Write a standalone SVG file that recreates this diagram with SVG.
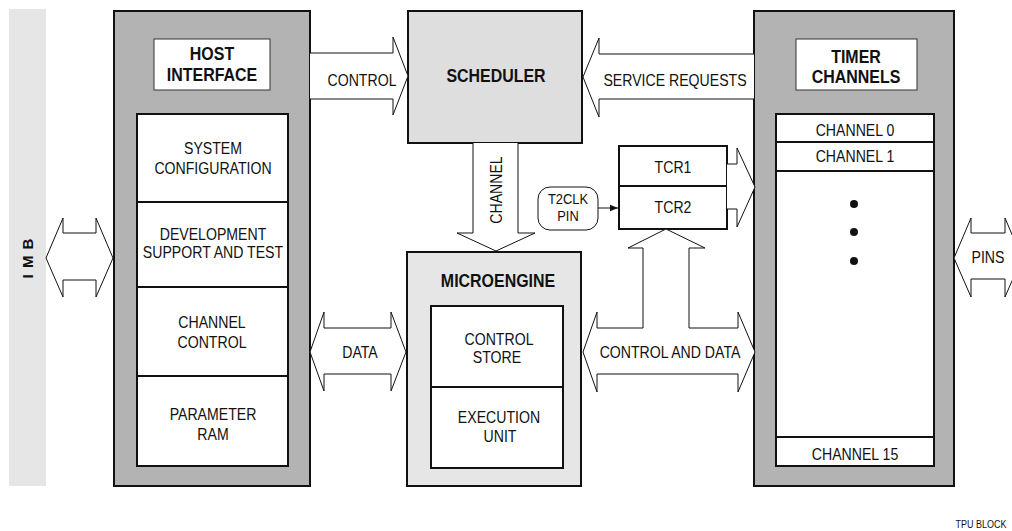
<svg xmlns="http://www.w3.org/2000/svg" width="1012" height="531" viewBox="0 0 1012 531">
<defs>
<style>
.t{font-family:"Liberation Sans",Arial,sans-serif;font-size:16.8px;text-anchor:middle;fill:#111}
.b{font-family:"Liberation Sans",Arial,sans-serif;font-size:19px;font-weight:bold;text-anchor:middle;fill:#111}
.outer{fill:#b3b3b3;stroke:#111;stroke-width:2}
.inner{fill:#fff;stroke:#111;stroke-width:2}
.lbl{fill:#fff;stroke:#333;stroke-width:1}
.light{fill:#e2e2e2;stroke:#111;stroke-width:2}
.arr{fill:#fff;stroke:#111;stroke-width:1;stroke-linejoin:miter}
.div{stroke:#111;stroke-width:2;fill:none}
</style>
<marker id="ah" viewBox="0 0 10 10" refX="10" refY="5" markerWidth="8" markerHeight="8" markerUnits="userSpaceOnUse" orient="auto">
<path d="M0,1 L10,5 L0,9 Z" fill="#111"/>
</marker>
</defs>
<rect width="1012" height="531" fill="#fff"/>

<g id="imb">
<rect x="9" y="9" width="37" height="477" fill="#e6e6e6"/>
<text class="b" transform="translate(33 258) rotate(-90)" style="font-size:15px;letter-spacing:1px">I M B</text>
</g>

<g id="host-interface">
<rect class="outer" x="114" y="11" width="196" height="475"/>
<rect class="lbl" x="154" y="39" width="116" height="51"/>
<text class="b" transform="translate(212 60) scale(0.84 1)">HOST</text>
<text class="b" transform="translate(212 81) scale(0.84 1)">INTERFACE</text>
<rect class="inner" x="137" y="114" width="151" height="352"/>
<line class="div" x1="137" y1="202" x2="288" y2="202"/>
<line class="div" x1="137" y1="287" x2="288" y2="287"/>
<line class="div" x1="137" y1="376" x2="288" y2="376"/>
<text class="t" transform="translate(213 154) scale(0.84 1)">SYSTEM</text>
<text class="t" transform="translate(213 174) scale(0.84 1)">CONFIGURATION</text>
<text class="t" transform="translate(213 240) scale(0.84 1)">DEVELOPMENT</text>
<text class="t" transform="translate(213 258) scale(0.84 1)">SUPPORT AND TEST</text>
<text class="t" transform="translate(212 328) scale(0.84 1)">CHANNEL</text>
<text class="t" transform="translate(212 348) scale(0.84 1)">CONTROL</text>
<text class="t" transform="translate(213 420) scale(0.84 1)">PARAMETER</text>
<text class="t" transform="translate(213 440) scale(0.84 1)">RAM</text>
</g>

<g id="scheduler">
<rect class="light" x="408" y="11" width="174" height="132" style="fill:#dedede"/>
<text class="b" transform="translate(496 82) scale(0.84 1)">SCHEDULER</text>
</g>

<g id="microengine">
<rect class="light" x="407" y="252" width="174" height="234" style="fill:#e6e6e6"/>
<text class="b" transform="translate(498 287) scale(0.84 1)">MICROENGINE</text>
<rect class="inner" x="431" y="306" width="132" height="162"/>
<line class="div" x1="431" y1="387" x2="563" y2="387"/>
<text class="t" transform="translate(499 345) scale(0.84 1)">CONTROL</text>
<text class="t" transform="translate(497 363) scale(0.84 1)">STORE</text>
<text class="t" transform="translate(499 423) scale(0.84 1)">EXECUTION</text>
<text class="t" transform="translate(500 442) scale(0.84 1)">UNIT</text>
</g>

<g id="timer-channels">
<rect class="outer" x="754" y="11" width="200" height="475"/>
<rect class="lbl" x="796" y="39" width="121" height="51"/>
<text class="b" transform="translate(856 63) scale(0.84 1)">TIMER</text>
<text class="b" transform="translate(856 83) scale(0.84 1)">CHANNELS</text>
<rect class="inner" x="776" y="114" width="158" height="352"/>
<line class="div" x1="776" y1="142" x2="934" y2="142"/>
<line class="div" x1="776" y1="171" x2="934" y2="171"/>
<line class="div" x1="776" y1="437" x2="934" y2="437"/>
<text class="t" transform="translate(855 136) scale(0.84 1)">CHANNEL 0</text>
<text class="t" transform="translate(855 162) scale(0.84 1)">CHANNEL 1</text>
<text class="t" transform="translate(855 460) scale(0.84 1)">CHANNEL 15</text>
<circle cx="854" cy="204" r="4" fill="#111"/>
<circle cx="854" cy="232" r="4" fill="#111"/>
<circle cx="854" cy="261" r="4" fill="#111"/>
</g>

<g id="tcr">
<rect x="619" y="146" width="108" height="83" fill="#fff" stroke="#111" stroke-width="2"/>
<line class="div" x1="619" y1="186" x2="727" y2="186"/>
<text class="t" transform="translate(673 173) scale(0.84 1)">TCR1</text>
<text class="t" transform="translate(673 213) scale(0.84 1)">TCR2</text>
</g>

<g id="t2clk-pin">
<rect x="538" y="187" width="60" height="43" rx="12" ry="12" fill="#fff" stroke="#111" stroke-width="1"/>
<text class="t" transform="translate(568 204) scale(0.86 1)" style="font-size:15px">T2CLK</text>
<text class="t" transform="translate(568 221) scale(0.86 1)" style="font-size:15px">PIN</text>
</g>

<g id="connectors">
<path class="arr" d="M46,258 L63,218 L63,233 L96,233 L96,218 L113,258 L96,297 L96,280 L63,280 L63,297 Z"/>
<path class="arr" d="M310,53 L393,53 L393,37 L408,76 L393,115 L393,99 L310,99"/>
<text class="t" transform="translate(362 86) scale(0.84 1)">CONTROL</text>
<path class="arr" d="M754,54 L599,54 L599,38 L583,77 L599,117 L599,99 L754,99"/>
<text class="t" transform="translate(675 86) scale(0.84 1)">SERVICE REQUESTS</text>
<path class="arr" d="M473,143 L473,233 L457,233 L496,251 L535,233 L518,233 L518,143"/>
<text class="t" transform="translate(502 190) rotate(-90) scale(0.84 1)">CHANNEL</text>
<path class="arr" d="M310,352 L324,312 L324,328 L391,328 L391,312 L406,352 L391,391 L391,374 L324,374 L324,391 Z"/>
<text class="t" transform="translate(360 358) scale(0.84 1)">DATA</text>
<path class="arr" d="M583,352 L597,312 L597,328 L643,328 L643,248 L628,248 L666,229 L705,248 L689,248 L689,328 L738,328 L738,312 L755,352 L738,392 L738,374 L597,374 L597,392 Z"/>
<text class="t" transform="translate(670 358) scale(0.84 1)">CONTROL AND DATA</text>
<path class="arr" d="M727,164 L737,164 L737,148 L755,187 L737,227 L737,209 L727,209"/>
<path class="arr" d="M954,258 L971,218 L971,233 L1005,233 L1005,218 L1022,258 L1005,297 L1005,279 L971,279 L971,297 Z"/>
<text class="t" transform="translate(988 263) scale(0.84 1)">PINS</text>
<line x1="598" y1="208" x2="618" y2="208" stroke="#111" stroke-width="1" marker-end="url(#ah)"/>
</g>

<text class="t" transform="translate(981 528) scale(0.84 1)" style="font-size:10.7px">TPU BLOCK</text>
</svg>
